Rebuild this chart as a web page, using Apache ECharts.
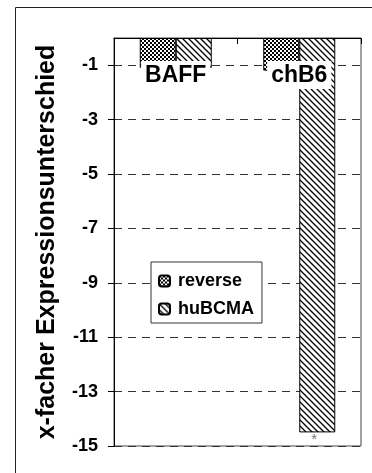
<!DOCTYPE html>
<html>
<head>
<meta charset="utf-8">
<script src="https://cdn.jsdelivr.net/npm/echarts@6/dist/echarts.min.js"></script>
<style>
html,body{margin:0;padding:0;background:#fff;}
#chart{width:372px;height:473px;}
</style>
</head>
<body>
<div id="chart"></div>
<script>
const categories = ['BAFF', 'chB6'];
const seriesNames = ['reverse', 'huBCMA'];
const reverseValues = [-1.1, -1.2];
const huBCMAValues = [-1.1, -14.5];
const huBCMAMarks = ['', '*'];
const yMin = -15;
const yMax = 0;
const yInterval = 2;
const yTitle = 'x-facher Expressionsunterschied';

const FONT = '"Liberation Sans", Arial, Helvetica, sans-serif';

function checkerPattern() {
  const c = document.createElement('canvas');
  c.width = 4; c.height = 4;
  const g = c.getContext('2d');
  g.fillStyle = '#fff'; g.fillRect(0, 0, 4, 4);
  g.fillStyle = '#000';
  g.fillRect(0, 0, 2, 2);
  g.fillRect(2, 2, 2, 2);
  g.fillRect(1, 0, 1, 2);
  return c;
}
function hatchPattern() {
  const s = 6;
  const c = document.createElement('canvas');
  c.width = s; c.height = s;
  const g = c.getContext('2d');
  g.fillStyle = '#fff'; g.fillRect(0, 0, s, s);
  g.strokeStyle = '#000';
  g.lineWidth = 1.3;
  g.beginPath();
  g.moveTo(-1, -1); g.lineTo(s + 1, s + 1);
  g.moveTo(-1, s - 1); g.lineTo(1, s + 1);
  g.moveTo(s - 1, -1); g.lineTo(s + 1, 1);
  g.stroke();
  return c;
}

const chart = echarts.init(document.getElementById('chart'), null, {renderer: 'canvas'});

const huData = huBCMAValues.map((v, i) => huBCMAMarks[i] ? {
  value: v,
  label: {show: true, position: 'bottom', formatter: huBCMAMarks[i], color: '#777',
    fontSize: 15, fontFamily: FONT, distance: 0, offset: [-3, 0]}
} : v);

chart.setOption({
  backgroundColor: '#fff',
  animation: false,
  graphic: [{
    type: 'rect', z: -1, silent: true,
    shape: {x: 15.5, y: 7.5, width: 420, height: 520},
    style: {fill: null, stroke: '#222', lineWidth: 1}
  }],
  grid: {
    left: 114, top: 38, right: 11, bottom: 27,
    show: true, backgroundColor: '#fff', borderColor: '#444', borderWidth: 1
  },
  legend: {
    orient: 'vertical',
    left: 151, top: 262,
    data: seriesNames,
    backgroundColor: '#fff',
    borderColor: '#333', borderWidth: 1, borderRadius: 0,
    padding: [10, 8, 5, 7],
    itemWidth: 11, itemHeight: 11, itemGap: 10,
    textStyle: {fontFamily: FONT, fontWeight: 'bold', fontSize: 18, color: '#000', padding: [0, 0, 0, 3]}
  },
  xAxis: {
    type: 'category',
    position: 'top',
    data: categories,
    z: 10,
    axisLine: {show: true, lineStyle: {color: '#000', width: 1}},
    axisTick: {show: true, inside: true, length: 6, lineStyle: {color: '#000'}},
    axisLabel: {
      inside: true, margin: 23,
      fontFamily: FONT, fontWeight: 'bold', fontSize: 23, color: '#000',
      backgroundColor: '#fff', padding: [3, 4, 2, 4]
    },
    splitLine: {show: false}
  },
  yAxis: {
    type: 'value',
    min: yMin, max: yMax, interval: yInterval,
    name: yTitle,
    nameLocation: 'middle',
    nameRotate: 90,
    nameGap: 54,
    nameTextStyle: {fontFamily: FONT, fontWeight: 'bold', fontSize: 25, color: '#000'},
    axisLine: {show: true, lineStyle: {color: '#000', width: 1}},
    axisTick: {show: true, length: 6, lineStyle: {color: '#000'}},
    axisLabel: {
      margin: 16, showMaxLabel: false,
      fontFamily: FONT, fontWeight: 'bold', fontSize: 18, color: '#000',
      formatter: v => (v === 0 ? '' : String(v))
    },
    splitLine: {show: true, lineStyle: {color: '#333', type: [8, 6], width: 1}}
  },
  series: [
    {
      name: seriesNames[0], type: 'bar', barWidth: 36, barGap: '0%',
      data: reverseValues,
      itemStyle: {color: {image: checkerPattern(), repeat: 'repeat'}, borderColor: '#000', borderWidth: 1}
    },
    {
      name: seriesNames[1], type: 'bar', barWidth: 36, barGap: '0%',
      data: huData,
      itemStyle: {color: {image: hatchPattern(), repeat: 'repeat'}, borderColor: '#000', borderWidth: 1}
    }
  ]
});
</script>
</body>
</html>
